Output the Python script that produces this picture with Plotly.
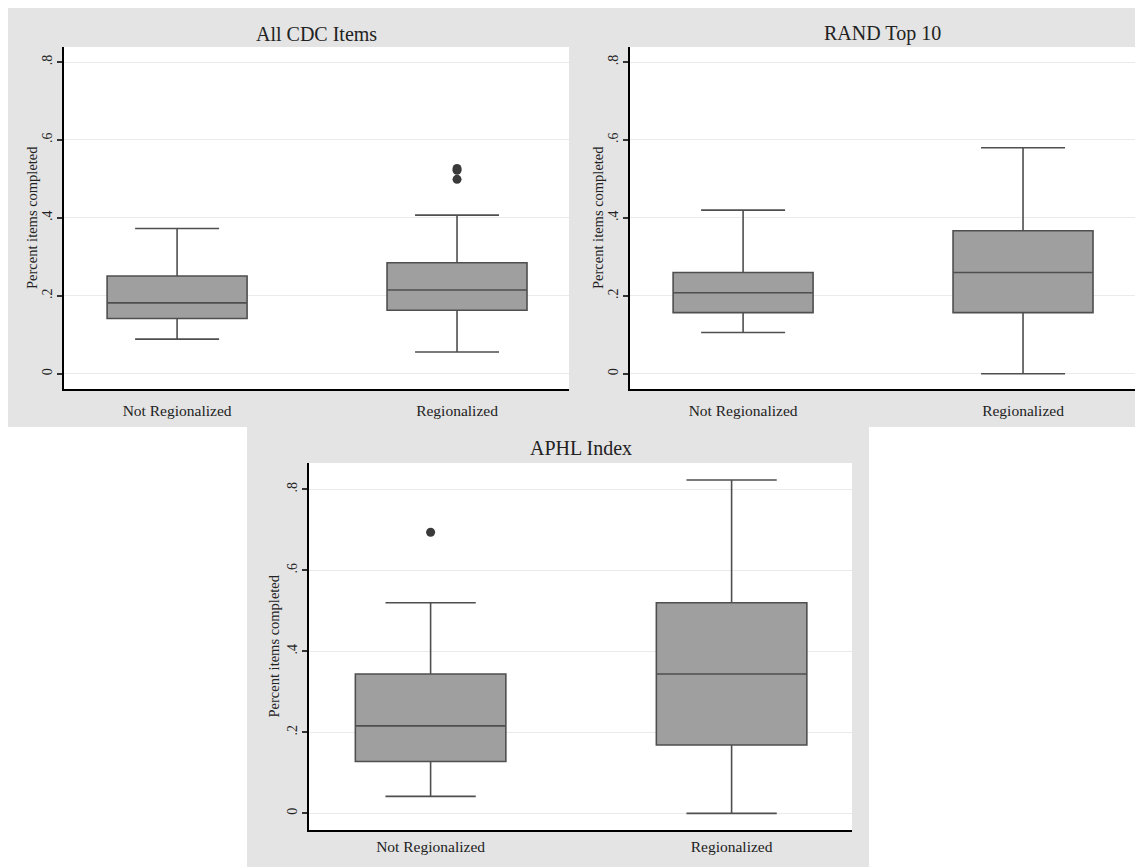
import plotly.graph_objects as go

# The page body adds an 8px margin; the figure is sized/offset to compensate.
OFF = 8
W, H = 1143 - OFF, 867 - OFF

# ---- data ----
groups = ["Not Regionalized", "Regionalized"]
panel_titles = ["All CDC Items", "RAND Top 10", "APHL Index"]

# stats per panel: [NotReg, Reg]
lower_whisker = [[0.089, 0.056], [0.106, 0.0], [0.042, 0.0]]
q1_vals       = [[0.142, 0.163], [0.157, 0.157], [0.128, 0.169]]
median_vals   = [[0.182, 0.215], [0.208, 0.260], [0.216, 0.344]]
q3_vals       = [[0.251, 0.285], [0.260, 0.367], [0.344, 0.520]]
upper_whisker = [[0.373, 0.407], [0.420, 0.580], [0.520, 0.823]]

# outliers per panel: (group index, value)
outlier_group = [[1, 1, 1], [], [0]]
outlier_value = [[0.527, 0.522, 0.499], [], [0.694]]

y_tickvals = [0, 0.2, 0.4, 0.6, 0.8]
y_ticktext = ["0", ".2", ".4", ".6", ".8"]
y_title = "Percent items completed"

# ---- layout geometry (target-image pixels) ----
plot_px = [(64, 569, 47, 389), (630, 1135, 47, 389), (309, 852, 463, 830)]
y_ranges = [[-0.039, 0.8385], [-0.039, 0.8385], [-0.041, 0.865]]
title_y_px = [34, 34, 448]
ytitle_off = [32, 32, 36]
xlab_standoff = [7, 7, 2]


def px_x(v):
    return (v - OFF) / W


def px_y(v):
    return 1 - (v - OFF) / H


FONT = "Liberation Serif, Times New Roman, serif"
TXT = "#222222"
BOX_FILL = "#9f9f9f"
BOX_LINE = "#4f4f4f"

fig = go.Figure()

for p in range(3):
    xa = "x" if p == 0 else f"x{p+1}"
    ya = "y" if p == 0 else f"y{p+1}"
    for g in range(2):
        fig.add_trace(go.Box(
            x=[g],
            q1=[q1_vals[p][g]], median=[median_vals[p][g]], q3=[q3_vals[p][g]],
            lowerfence=[lower_whisker[p][g]], upperfence=[upper_whisker[p][g]],
            width=0.5, whiskerwidth=0.6,
            fillcolor=BOX_FILL, line=dict(color=BOX_LINE, width=1.6),
            boxpoints=False, showlegend=False, hoverinfo="skip",
            xaxis=xa, yaxis=ya,
        ))
    if outlier_value[p]:
        fig.add_trace(go.Scatter(
            x=outlier_group[p], y=outlier_value[p], mode="markers",
            marker=dict(color="#3a3a3a", size=9),
            showlegend=False, hoverinfo="skip", xaxis=xa, yaxis=ya,
        ))

shapes = [
    dict(type="rect", xref="paper", yref="paper", layer="below",
         x0=0.0, x1=1.0, y0=px_y(427), y1=1.0,
         fillcolor="#e4e4e4", line=dict(width=0)),
    dict(type="rect", xref="paper", yref="paper", layer="below",
         x0=px_x(247), x1=px_x(869), y0=0.0, y1=px_y(427),
         fillcolor="#e4e4e4", line=dict(width=0)),
]
annotations = []
layout_axes = {}
for p in range(3):
    l, r, t, b = plot_px[p]
    shapes.append(dict(type="rect", xref="paper", yref="paper", layer="below",
                       x0=px_x(l), x1=px_x(r), y0=px_y(b), y1=px_y(t),
                       fillcolor="white", line=dict(width=0)))
    xk = "xaxis" if p == 0 else f"xaxis{p+1}"
    yk = "yaxis" if p == 0 else f"yaxis{p+1}"
    ya_anchor = "y" if p == 0 else f"y{p+1}"
    xa_anchor = "x" if p == 0 else f"x{p+1}"
    layout_axes[xk] = dict(
        domain=[px_x(l), px_x(r)], anchor=ya_anchor, range=[-0.404, 1.4],
        tickvals=[0, 1], ticktext=groups, ticks="", showgrid=False,
        zeroline=False, showline=True, linecolor="black", linewidth=1.6,
        tickfont=dict(family=FONT, size=15.5, color=TXT),
        ticklabelstandoff=xlab_standoff[p],
    )
    layout_axes[yk] = dict(
        domain=[px_y(b), px_y(t)], anchor=xa_anchor, range=y_ranges[p],
        tickvals=y_tickvals, ticktext=y_ticktext, ticks="outside", ticklen=5,
        tickcolor="#333333", tickwidth=1.5, tickangle=-90,
        showgrid=True, gridcolor="#eaeaea", gridwidth=1.2,
        zeroline=False, showline=True, linecolor="black", linewidth=1.6,
        tickfont=dict(family=FONT, size=14, color=TXT),
    )
    annotations.append(dict(
        text=panel_titles[p], xref="paper", yref="paper",
        x=px_x((l + r) / 2), y=px_y(title_y_px[p]), xanchor="center", yanchor="middle",
        showarrow=False, font=dict(family=FONT, size=20, color=TXT),
    ))
    annotations.append(dict(
        text=y_title, xref="paper", yref="paper", textangle=-90,
        x=px_x(l - ytitle_off[p]), y=px_y((t + b) / 2),
        xanchor="center", yanchor="middle",
        showarrow=False, font=dict(family=FONT, size=14.5, color=TXT),
    ))

fig.update_layout(
    width=W, height=H, margin=dict(l=0, r=0, t=0, b=0),
    paper_bgcolor="white", plot_bgcolor="white",
    shapes=shapes, annotations=annotations, showlegend=False,
    **layout_axes,
)

fig.write_html("out.html")
